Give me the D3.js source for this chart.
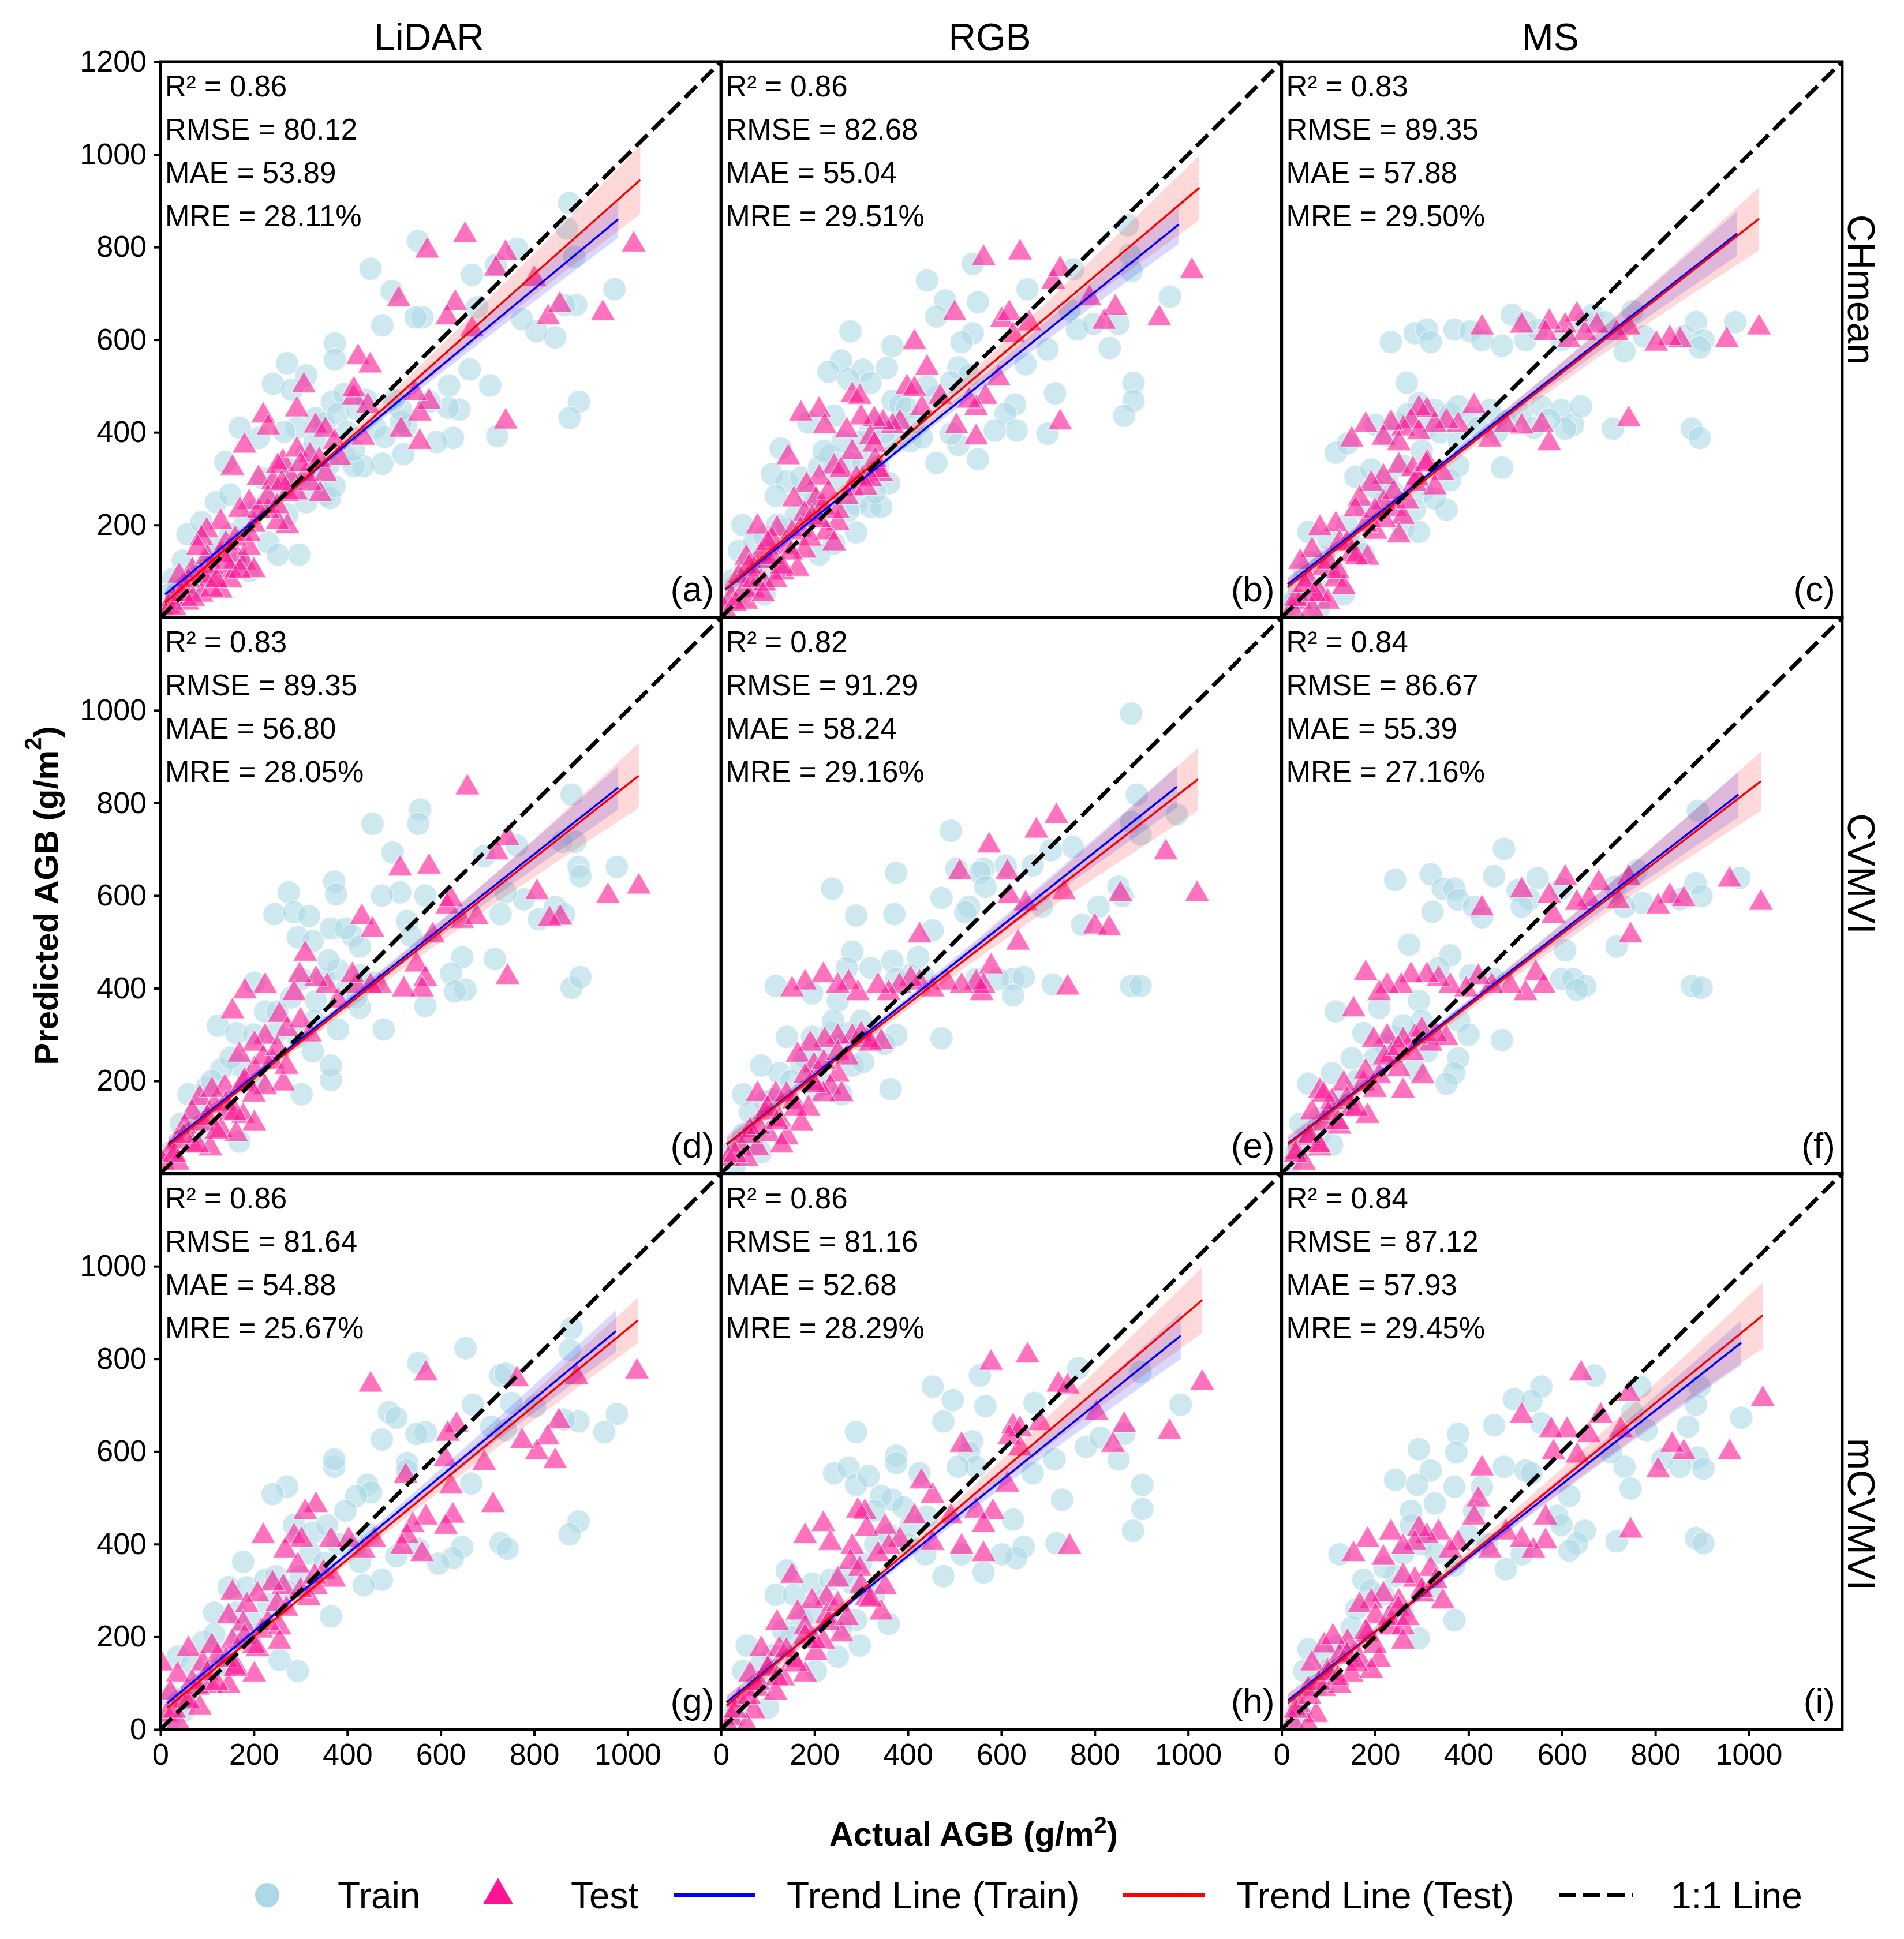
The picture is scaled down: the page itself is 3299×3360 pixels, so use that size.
<!DOCTYPE html>
<html>
<head>
<meta charset="utf-8">
<title>Predicted vs Actual AGB</title>
<script src="https://d3js.org/d3.v7.min.js"></script>
<style>
  body { margin: 0; background: #fff; }
  text { font-family: "Liberation Sans", Arial, sans-serif; fill: #000; }
</style>
</head>
<body>
<div id="chart"></div>
<script>
// ---- data ----
const columns = ["LiDAR", "RGB", "MS"];
const rowLabels = ["CHmean", "CVMVI", "mCVMVI"];
const panelTags = ["(a)", "(b)", "(c)", "(d)", "(e)", "(f)", "(g)", "(h)", "(i)"];
const r2   = [0.86, 0.86, 0.83, 0.83, 0.82, 0.84, 0.86, 0.86, 0.84];
const rmse = [80.12, 82.68, 89.35, 89.35, 91.29, 86.67, 81.64, 81.16, 87.12];
const mae  = [53.89, 55.04, 57.88, 56.80, 58.24, 55.39, 54.88, 52.68, 57.93];
const mre  = [28.11, 29.51, 29.50, 28.05, 29.16, 27.16, 25.67, 28.29, 29.45];

const xTicks = [0, 200, 400, 600, 800, 1000];
const yTicksByRow = [[200, 400, 600, 800, 1000, 1200], [200, 400, 600, 800, 1000], [0, 200, 400, 600, 800, 1000]];

// [actual, predicted]
const trainA = [[875,895],[870,840],[886,779],[972,709],[890,675],[865,675],[896,466],[876,431],[845,605],[805,618],[774,644],[764,796],[718,761],[667,740],[678,670],[551,813],[561,648],[546,648],[495,705],[450,753],[475,631],[373,592],[373,557],[271,549],[312,523],[241,505],[281,492],[662,536],[618,501],[640,449],[706,501],[616,453],[626,388],[721,392],[591,379],[520,353],[526,414],[475,332],[434,327],[393,349],[367,466],[393,483],[332,431],[292,410],[265,401],[210,388],[170,410],[139,336],[119,249],[149,266],[58,180],[48,123],[88,206],[231,162],[297,136],[251,136],[272,223],[312,249],[353,266],[363,258],[414,327],[414,362],[332,293],[373,284],[312,353],[515,423],[515,449],[576,466],[27,84],[17,49],[38,66],[78,101],[108,136],[190,101],[170,119],[15,15],[330,380],[350,420],[380,440],[400,400],[420,450],[440,470],[360,330],[300,300],[280,320],[260,280],[230,250],[200,230],[180,200],[150,180],[120,150],[100,120],[80,80],[60,60],[220,300],[460,410],[480,390],[500,470]];
const testA = [[1013,805],[652,826],[571,792],[739,787],[718,753],[800,731],[510,687],[947,657],[830,648],[855,675],[631,679],[614,648],[667,622],[739,423],[555,379],[515,405],[555,440],[575,466],[545,484],[423,562],[449,544],[414,475],[414,492],[307,501],[292,449],[220,436],[231,410],[180,371],[154,323],[210,301],[241,293],[262,336],[292,362],[312,310],[332,414],[353,405],[373,379],[383,345],[353,310],[342,266],[272,266],[251,327],[434,388],[444,457],[272,197],[251,206],[190,249],[170,232],[129,206],[99,188],[88,171],[129,136],[160,136],[180,119],[200,102],[149,102],[109,84],[68,102],[48,67],[27,41],[17,23],[88,49],[129,58],[58,32],[12,6],[60,80],[100,130],[140,160],[200,200],[230,230],[280,300],[320,350],[110,60],[150,80],[190,150],[30,20],[45,50],[70,40],[90,90],[110,110],[120,80],[140,120],[160,170],[170,100],[190,180],[210,230],[230,260],[250,240],[260,290],[290,270],[300,330],[320,290],[340,340],[40,90],[80,150]];

const trainB = [[871,847],[875,784],[879,748],[961,693],[851,634],[832,582],[883,507],[883,468],[863,436],[762,622],[797,634],[746,665],[754,752],[656,709],[699,579],[652,547],[715,484],[699,397],[629,460],[609,440],[633,404],[586,404],[539,764],[550,681],[539,614],[480,685],[461,650],[441,728],[515,595],[508,540],[531,524],[492,508],[461,476],[441,500],[367,586],[355,539],[304,535],[277,618],[257,555],[230,531],[273,515],[320,507],[367,468],[383,460],[398,452],[187,421],[242,436],[320,404],[367,381],[406,381],[430,389],[414,421],[461,334],[550,342],[508,373],[492,397],[128,365],[109,310],[140,294],[171,302],[210,326],[234,350],[273,334],[304,334],[336,326],[289,247],[320,239],[343,239],[273,231],[242,160],[289,184],[187,263],[117,263],[46,200],[38,144],[70,160],[93,176],[140,192],[195,215],[210,136],[93,50],[62,73],[23,81],[330,420],[350,400],[380,420],[300,380],[260,380],[220,360],[250,300],[200,250],[160,220],[120,200],[80,120],[50,100],[30,40],[100,100],[360,290],[330,270]];
const testB = [[1008,748],[938,646],[844,669],[820,638],[789,689],[711,725],[726,752],[640,788],[562,776],[500,657],[601,642],[617,657],[625,610],[660,635],[594,516],[566,476],[546,452],[531,468],[504,413],[546,389],[726,421],[414,594],[441,539],[398,497],[414,493],[469,476],[430,452],[383,421],[367,413],[347,421],[328,428],[281,480],[297,476],[210,448],[171,440],[222,413],[300,432],[269,404],[320,389],[328,373],[281,357],[144,346],[242,326],[257,318],[343,310],[336,318],[304,302],[320,298],[281,278],[210,302],[183,286],[156,255],[203,255],[218,239],[179,224],[195,216],[250,204],[226,184],[242,160],[78,196],[120,192],[109,168],[152,184],[140,152],[179,144],[85,137],[54,129],[70,105],[101,121],[132,97],[164,105],[38,89],[70,58],[23,42],[54,34],[7,18],[93,73],[117,81],[30,30],[50,60],[70,80],[90,50],[110,130],[130,110],[150,140],[170,190],[190,170],[210,210],[230,270],[250,230],[270,260],[290,300],[310,280],[330,340],[60,110],[100,160]];

const trainC = [[234,595],[285,614],[311,622],[319,595],[370,622],[404,618],[429,599],[472,587],[493,654],[522,638],[522,599],[548,622],[599,599],[649,638],[666,654],[692,638],[734,575],[751,662],[776,607],[861,607],[887,638],[903,599],[971,638],[895,583],[268,507],[201,416],[226,392],[294,463],[328,448],[361,440],[378,456],[404,432],[446,448],[480,424],[514,440],[556,456],[599,448],[624,416],[641,456],[607,408],[709,408],[878,408],[895,388],[573,428],[116,356],[141,376],[472,324],[158,304],[192,320],[226,297],[260,328],[302,273],[353,233],[378,328],[361,297],[328,257],[285,233],[218,249],[260,193],[294,185],[57,185],[91,130],[48,98],[74,66],[31,42],[116,98],[158,153],[175,137],[133,50],[250,420],[270,440],[310,410],[340,400],[420,410],[460,400],[540,410],[380,380],[300,360],[200,280],[240,270],[180,230],[140,200],[100,170],[60,120],[20,30],[80,20]];
const testC = [[1022,626],[953,599],[853,599],[831,603],[802,591],[743,626],[717,614],[675,630],[649,614],[632,654],[607,630],[615,599],[573,638],[565,614],[514,630],[429,626],[743,428],[557,416],[573,376],[514,412],[480,416],[446,384],[412,456],[378,416],[353,424],[328,416],[311,448],[294,452],[277,424],[260,408],[234,420],[218,388],[180,416],[150,384],[251,376],[294,400],[251,328],[281,320],[311,336],[344,312],[328,281],[285,289],[218,304],[192,289],[167,257],[218,249],[243,233],[260,217],[251,177],[201,185],[158,233],[116,201],[82,193],[124,161],[150,137],[184,129],[65,145],[91,106],[57,82],[116,82],[82,50],[40,34],[23,18],[133,66],[99,34],[65,18],[30,40],[50,70],[70,50],[100,120],[120,100],[140,160],[160,130],[180,200],[200,230],[220,210],[240,270],[270,250],[290,300],[310,330],[40,120]];

const trainD = [[880,818],[888,716],[860,716],[895,662],[899,642],[977,662],[845,576],[864,560],[810,549],[778,592],[763,708],[693,685],[739,607],[728,560],[716,463],[646,467],[622,432],[653,397],[630,393],[880,401],[899,424],[556,786],[552,755],[454,755],[497,693],[513,607],[474,600],[567,600],[372,630],[376,603],[275,607],[244,560],[286,564],[318,556],[294,510],[326,502],[365,529],[411,513],[427,490],[396,529],[528,545],[536,513],[567,362],[478,311],[427,358],[380,311],[333,373],[302,420],[427,428],[458,412],[123,319],[201,412],[162,303],[224,350],[247,303],[294,295],[326,264],[365,202],[365,233],[302,171],[208,194],[169,233],[130,225],[60,171],[99,186],[44,108],[84,85],[21,46],[169,69],[350,420],[380,440],[400,400],[330,330],[280,380],[250,350],[200,300],[150,250],[110,200],[80,140],[420,380],[360,460]];
const testD = [[657,833],[743,724],[720,693],[575,662],[513,658],[1024,619],[958,599],[806,607],[856,552],[833,549],[614,576],[622,592],[646,545],[677,553],[583,514],[743,424],[548,451],[567,420],[560,397],[521,397],[470,405],[450,405],[431,553],[454,526],[419,405],[411,428],[380,373],[357,405],[333,420],[310,474],[298,428],[286,389],[224,405],[181,393],[154,350],[255,342],[271,311],[224,295],[201,280],[169,256],[201,225],[240,241],[263,194],[224,186],[138,186],[177,194],[84,163],[115,147],[146,132],[177,124],[201,108],[68,132],[52,101],[91,108],[130,93],[162,85],[37,69],[68,62],[21,46],[107,54],[5,23],[37,23],[30,40],[50,80],[80,60],[100,120],[120,90],[140,150],[160,130],[180,200],[200,170],[220,250],[250,270],[270,230],[300,330],[320,300],[110,180]];

const trainE = [[878,993],[890,818],[878,759],[898,732],[976,775],[851,619],[859,599],[808,576],[773,537],[878,405],[898,405],[710,408],[753,705],[706,698],[687,576],[667,665],[609,665],[562,658],[554,650],[566,619],[531,576],[523,564],[492,740],[504,658],[472,595],[453,525],[375,649],[371,560],[289,557],[238,615],[281,479],[269,444],[320,444],[367,459],[422,467],[406,428],[437,420],[625,420],[648,424],[593,420],[546,420],[625,385],[117,405],[195,389],[250,373],[375,420],[472,292],[363,182],[141,295],[195,295],[234,303],[273,303],[328,295],[375,299],[281,233],[304,241],[86,233],[125,217],[172,233],[211,202],[258,171],[47,171],[62,132],[94,155],[47,85],[86,46],[23,46],[300,290],[260,280],[220,260],[180,250],[150,200],[110,160],[200,180],[300,330],[350,280],[240,330],[70,60],[30,20]];
const testE = [[1019,603],[952,693],[855,603],[800,533],[831,529],[718,771],[675,740],[574,708],[511,650],[613,650],[617,599],[636,498],[734,607],[652,583],[578,447],[425,514],[742,401],[558,389],[562,405],[546,412],[515,405],[484,412],[453,397],[425,412],[406,420],[382,405],[359,389],[336,405],[293,389],[273,412],[250,405],[219,428],[180,412],[152,397],[343,284],[312,288],[281,295],[250,295],[222,288],[191,280],[164,256],[199,233],[250,213],[234,186],[258,171],[219,171],[195,196],[78,171],[117,171],[156,155],[187,140],[94,132],[125,116],[172,108],[62,93],[101,85],[141,78],[39,62],[78,54],[16,31],[55,31],[30,40],[60,80],[80,100],[100,140],[120,110],[140,170],[160,140],[180,210],[200,190],[220,240],[250,260],[270,250],[300,300],[320,280],[130,60]];

const trainF = [[891,783],[980,638],[886,627],[899,599],[853,592],[772,584],[734,576],[717,490],[760,654],[713,619],[476,701],[455,642],[548,638],[599,615],[505,611],[531,592],[514,576],[319,646],[243,634],[345,615],[370,615],[378,591],[412,576],[429,553],[323,565],[273,494],[361,471],[455,420],[404,428],[336,444],[607,482],[599,420],[624,420],[650,405],[632,397],[878,405],[899,401],[472,288],[116,350],[209,358],[294,373],[175,303],[243,295],[378,249],[370,217],[353,194],[150,249],[311,264],[285,225],[57,194],[108,217],[133,147],[40,108],[82,85],[108,62],[31,46],[300,330],[260,320],[220,280],[200,250],[330,300],[380,330],[400,300],[160,200],[120,160],[80,120],[60,70],[20,20]];
const testF = [[1026,584],[959,634],[831,599],[861,592],[806,576],[747,514],[743,638],[721,587],[679,627],[658,592],[632,584],[607,638],[573,599],[582,556],[514,611],[429,572],[544,432],[561,405],[522,389],[489,405],[450,405],[421,424],[395,397],[361,405],[336,420],[311,428],[277,428],[256,405],[226,405],[209,389],[180,432],[154,354],[353,292],[319,280],[285,295],[260,288],[226,295],[197,288],[235,256],[251,225],[302,210],[260,178],[209,210],[175,194],[133,194],[82,178],[108,155],[150,139],[184,124],[65,132],[91,108],[124,101],[57,77],[82,54],[31,46],[48,23],[30,40],[60,80],[80,60],[100,130],[120,110],[140,160],[160,140],[180,220],[200,180],[220,250],[250,270],[280,260],[300,310],[330,300],[90,170]];

const trainG = [[653,823],[552,791],[727,764],[739,768],[880,866],[876,819],[895,665],[977,681],[950,642],[864,669],[802,697],[751,705],[739,646],[708,654],[669,701],[665,531],[895,449],[876,421],[728,402],[743,390],[646,394],[626,370],[595,358],[552,390],[568,642],[548,638],[474,626],[489,685],[505,673],[528,575],[528,559],[443,528],[451,512],[372,567],[372,583],[271,524],[240,508],[419,504],[396,472],[286,441],[326,425],[357,441],[474,323],[435,311],[427,362],[505,374],[177,362],[146,307],[185,307],[224,323],[115,252],[162,252],[247,331],[365,244],[294,126],[255,150],[91,189],[115,205],[37,157],[68,142],[146,134],[21,71],[52,63],[320,380],[350,360],[380,400],[300,330],[270,300],[230,270],[200,230],[170,200],[420,400],[450,420],[130,140],[90,100],[50,40],[20,20]];
const testG = [[1020,772],[568,768],[450,744],[763,756],[891,760],[853,665],[829,630],[806,598],[845,579],[774,622],[693,575],[712,484],[634,657],[615,638],[610,583],[622,524],[626,461],[611,437],[568,457],[540,441],[528,417],[560,378],[517,394],[525,547],[435,386],[458,409],[403,409],[365,409],[333,484],[310,469],[286,417],[302,409],[267,386],[220,417],[294,354],[349,339],[372,323],[333,307],[318,283],[263,307],[240,315],[208,291],[154,295],[146,244],[185,268],[177,228],[216,213],[208,173],[255,220],[255,189],[154,189],[60,173],[122,157],[91,142],[162,134],[201,118],[37,118],[68,102],[107,94],[146,94],[21,79],[52,63],[84,47],[13,31],[37,16],[2,142],[30,40],[60,60],[80,90],[100,120],[120,100],[140,150],[160,130],[180,200],[200,180],[230,230],[250,270],[270,260],[300,300],[330,330],[110,180]];

const trainH = [[765,780],[554,764],[453,740],[496,711],[476,665],[566,698],[671,705],[984,701],[898,772],[781,610],[812,630],[851,583],[863,638],[902,528],[902,476],[882,429],[730,496],[714,583],[667,553],[718,402],[648,394],[625,453],[632,370],[562,339],[601,378],[515,378],[538,622],[531,598],[546,567],[507,567],[425,553],[289,642],[242,553],[273,565],[289,528],[316,547],[375,591],[375,575],[367,496],[343,504],[390,480],[328,472],[406,441],[437,378],[476,331],[141,343],[117,291],[156,291],[195,315],[234,323],[281,315],[328,291],[359,228],[289,236],[258,220],[297,181],[250,157],[172,236],[133,213],[55,181],[47,126],[86,142],[203,126],[101,47],[31,39],[330,400],[360,420],[400,400],[300,360],[260,330],[220,280],[190,250],[150,200],[110,160],[80,100],[30,20],[440,460]];
const testH = [[656,807],[578,791],[1030,748],[960,642],[863,657],[839,614],[804,683],[722,744],[742,740],[683,661],[625,654],[640,648],[617,630],[515,614],[640,606],[613,528],[582,469],[546,472],[562,441],[562,378],[515,394],[746,394],[492,459],[453,402],[453,504],[429,535],[414,459],[383,409],[359,394],[336,378],[308,469],[293,472],[312,433],[351,437],[281,394],[277,362],[219,443],[180,417],[234,402],[152,331],[250,323],[297,346],[351,307],[312,283],[343,252],[226,283],[195,276],[164,252],[180,220],[226,244],[258,205],[219,189],[203,165],[86,173],[125,173],[156,150],[101,134],[62,118],[133,110],[180,118],[78,87],[117,79],[39,63],[70,39],[23,24],[55,8],[16,5],[30,40],[60,70],[80,100],[100,130],[120,110],[140,170],[160,140],[180,200],[200,190],[230,230],[250,270],[270,240],[300,310],[320,280],[120,230]];

const trainI = [[670,764],[556,740],[497,713],[535,709],[455,657],[378,638],[294,605],[374,598],[319,559],[243,539],[290,528],[370,524],[429,524],[476,567],[522,559],[535,553],[556,661],[616,504],[590,461],[768,740],[751,685],[781,646],[734,567],[747,520],[895,740],[887,701],[870,654],[984,673],[891,587],[903,563],[853,567],[815,583],[705,598],[887,413],[903,402],[717,406],[649,429],[633,402],[616,386],[599,441],[514,378],[480,346],[412,472],[328,488],[277,472],[277,441],[370,354],[124,378],[175,323],[243,331],[218,291],[370,236],[294,197],[57,173],[91,157],[150,220],[48,126],[82,94],[40,39],[300,400],[330,380],[260,380],[220,350],[190,300],[160,260],[260,250],[320,300],[400,420],[440,400],[120,180],[100,130],[30,30]];
const testI = [[1030,713],[959,598],[861,598],[836,614],[806,559],[747,429],[641,768],[743,724],[683,677],[726,646],[658,635],[633,591],[611,646],[577,646],[582,598],[514,677],[429,563],[565,457],[565,406],[539,386],[514,409],[480,425],[446,386],[421,496],[412,457],[378,402],[361,386],[336,425],[311,417],[294,433],[285,402],[260,394],[234,425],[218,370],[184,409],[154,378],[319,346],[285,323],[260,331],[345,276],[302,291],[251,276],[218,291],[192,276],[167,268],[201,244],[234,220],[260,220],[184,205],[260,189],[141,189],[91,181],[124,157],[167,150],[209,150],[65,142],[99,126],[150,118],[192,126],[57,87],[91,87],[124,94],[40,47],[74,31],[23,16],[57,8],[30,40],[60,70],[80,100],[100,120],[120,110],[140,160],[160,140],[180,210],[200,180],[230,240],[250,260],[270,240],[300,300],[330,320],[110,200]];

const trainSets = [trainA, trainB, trainC, trainD, trainE, trainF, trainG, trainH, trainI];
const testSets = [testA, testB, testC, testD, testE, testF, testG, testH, testI];

// fitted trend lines, [start, end] in data units
const trendTrain = [[[10,50],[980,860]], [[9,60],[980,849]], [[13,72],[975,829]], [[17,64],[980,833]], [[12,63],[976,835]], [[14,65],[978,818]], [[15,57],[975,860]], [[12,59],[984,850]], [[14,63],[984,835]]];
const trendTest = [[[10,32],[1027,945]], [[9,62],[1024,928]], [[13,66],[1022,861]], [[17,60],[1024,859]], [[12,63],[1021,851]], [[14,63],[1026,847]], [[15,47],[1022,883]], [[12,52],[1030,927]], [[14,57],[1030,894]]];
// confidence band half widths at x = start, 300, 650, end
const bandKnotX = [300, 650];
const bandTrain = [[12,6,18,40], [12,6,18,42], [14,7,20,48], [14,7,20,47], [14,7,19,45], [14,7,20,49], [13,6,19,45], [14,7,20,50], [14,7,20,48]];
const bandTest = [[22,10,30,74], [20,10,28,70], [20,10,26,68], [20,10,26,70], [20,10,26,68], [20,10,25,64], [16,8,20,49], [20,10,28,71], [20,10,28,71]];

// ---- layout ----
const W = 3299, H = 3360;
const gridLeft = 278, gridTop = 107, panelW = 971.3, panelH = 963.3;
const rowLabelY = [502, 1514, 2624];
const font = "'Liberation Sans', Arial, sans-serif";

const svg = d3.select("#chart").append("svg")
    .attr("width", W)
    .attr("height", H);
svg.append("rect").attr("width", W).attr("height", H).attr("fill", "#fff");

const x = d3.scaleLinear().domain([0, 1200]).range([0, panelW]);
const y = d3.scaleLinear().domain([0, 1200]).range([panelH, 0]);
const tri = d3.symbol().type(d3.symbolTriangle).size(800);

function bandPath(line, hw) {
    const [[x0, y0], [x1, y1]] = line;
    const onLine = xv => y0 + (y1 - y0) * (xv - x0) / (x1 - x0);
    const knots = [x0, ...bandKnotX, x1].map((xv, k) => ({x: xv, lo: onLine(xv) - hw[k], hi: onLine(xv) + hw[k]}));
    return d3.area()
        .x(d => x(d.x))
        .y0(d => y(d.lo))
        .y1(d => y(d.hi))
        .curve(d3.curveMonotoneX)(knots);
}

for (let i = 0; i < 9; i++) {
    const r = Math.floor(i / 3), c = i % 3;
    const g = svg.append("g")
        .attr("transform", `translate(${gridLeft + c * panelW},${gridTop + r * panelH})`);

    g.append("clipPath").attr("id", "clip" + i)
        .append("rect").attr("width", panelW).attr("height", panelH);
    const plot = g.append("g").attr("clip-path", `url(#clip${i})`);

    // scatter
    plot.selectAll("circle.train")
        .data(trainSets[i])
        .join("circle")
        .attr("class", "train")
        .attr("cx", d => x(d[0]))
        .attr("cy", d => y(d[1]))
        .attr("r", 20)
        .attr("fill", "lightblue")
        .attr("fill-opacity", 0.6)
        .attr("stroke", "#fff")
        .attr("stroke-opacity", 0.6)
        .attr("stroke-width", 1.5);

    plot.selectAll("path.test")
        .data(testSets[i])
        .join("path")
        .attr("class", "test")
        .attr("d", tri)
        .attr("transform", d => `translate(${x(d[0])},${y(d[1])})`)
        .attr("fill", "deeppink")
        .attr("fill-opacity", 0.6)
        .attr("stroke", "#fff")
        .attr("stroke-opacity", 0.6)
        .attr("stroke-width", 1.5);

    // confidence bands + trend lines
    plot.append("path").attr("d", bandPath(trendTrain[i], bandTrain[i]))
        .attr("fill", "blue").attr("fill-opacity", 0.15);
    plot.append("path").attr("d", bandPath(trendTest[i], bandTest[i]))
        .attr("fill", "red").attr("fill-opacity", 0.15);

    const line = d3.line().x(d => x(d[0])).y(d => y(d[1]));
    plot.append("path").attr("d", line(trendTrain[i]))
        .attr("stroke", "blue").attr("stroke-width", 3.5).attr("fill", "none");
    plot.append("path").attr("d", line(trendTest[i]))
        .attr("stroke", "red").attr("stroke-width", 3.5).attr("fill", "none");

    // 1:1 line
    plot.append("path").attr("d", line([[0, 0], [1200, 1200]]))
        .attr("stroke", "#000").attr("stroke-width", 7)
        .attr("stroke-dasharray", "28,12").attr("fill", "none");

    // frame
    g.append("rect").attr("width", panelW).attr("height", panelH)
        .attr("fill", "none").attr("stroke", "#000").attr("stroke-width", 5);

    // stats
    const lines = [
        `R² = ${r2[i].toFixed(2)}`,
        `RMSE = ${rmse[i].toFixed(2)}`,
        `MAE = ${mae[i].toFixed(2)}`,
        `MRE = ${mre[i].toFixed(2)}%`
    ];
    g.selectAll("text.stat")
        .data(lines)
        .join("text")
        .attr("class", "stat")
        .attr("x", 8)
        .attr("y", (d, k) => 60 + k * 75)
        .attr("font-size", 51)
        .text(d => d);

    g.append("text")
        .attr("x", panelW - 12)
        .attr("y", panelH - 28)
        .attr("text-anchor", "end")
        .attr("font-size", 62)
        .text(panelTags[i]);

    // axes
    if (c === 0) {
        const ay = g.append("g")
            .call(d3.axisLeft(y).tickValues(yTicksByRow[r]).tickSize(12).tickPadding(12).tickFormat(d3.format("d")))
            .attr("font-size", 52).attr("font-family", font);
        ay.select(".domain").remove();
        ay.selectAll("line").attr("stroke-width", 4);
    }
    if (r === 2) {
        const ax = g.append("g")
            .attr("transform", `translate(0,${panelH})`)
            .call(d3.axisBottom(x).tickValues(xTicks).tickSize(12).tickPadding(12).tickFormat(d3.format("d")))
            .attr("font-size", 52).attr("font-family", font);
        ax.select(".domain").remove();
        ax.selectAll("line").attr("stroke-width", 4);
    }
}

// column titles
svg.selectAll("text.col")
    .data(columns)
    .join("text")
    .attr("class", "col")
    .attr("x", (d, c) => gridLeft + c * panelW + panelW / 2 - 20)
    .attr("y", 87)
    .attr("text-anchor", "middle")
    .attr("font-size", 66)
    .text(d => d);

// row labels on the right
svg.selectAll("text.rowlab")
    .data(rowLabels)
    .join("text")
    .attr("class", "rowlab")
    .attr("transform", (d, r) => `translate(3225,${rowLabelY[r]}) rotate(90)`)
    .attr("text-anchor", "middle")
    .attr("dominant-baseline", "central")
    .attr("font-size", 66)
    .text(d => d);

// axis titles
const yTitle = svg.append("text")
    .attr("transform", `translate(79,${gridTop + 1.5 * panelH}) rotate(-90)`)
    .attr("text-anchor", "middle")
    .attr("dominant-baseline", "central")
    .attr("font-size", 58)
    .attr("font-weight", "bold");
yTitle.append("tspan").text("Predicted AGB (g/m");
yTitle.append("tspan").attr("dy", -22).attr("font-size", 40).text("2");
yTitle.append("tspan").attr("dy", 22).text(")");

const xTitle = svg.append("text")
    .attr("x", 1687)
    .attr("y", 3198)
    .attr("text-anchor", "middle")
    .attr("font-size", 58)
    .attr("font-weight", "bold");
xTitle.append("tspan").text("Actual AGB (g/m");
xTitle.append("tspan").attr("dy", -22).attr("font-size", 40).text("2");
xTitle.append("tspan").attr("dy", 22).text(")");

// legend
const ly = 3284;
const legend = svg.append("g");
legend.append("circle").attr("cx", 463).attr("cy", ly).attr("r", 21).attr("fill", "lightblue");
legend.append("path").attr("d", d3.symbol().type(d3.symbolTriangle).size(1150)())
    .attr("transform", `translate(863,${ly})`).attr("fill", "deeppink");
legend.append("line").attr("x1", 1168).attr("x2", 1309).attr("y1", ly).attr("y2", ly)
    .attr("stroke", "blue").attr("stroke-width", 7);
legend.append("line").attr("x1", 1946).attr("x2", 2087).attr("y1", ly).attr("y2", ly)
    .attr("stroke", "red").attr("stroke-width", 7);
legend.append("line").attr("x1", 2701).attr("x2", 2830).attr("y1", ly).attr("y2", ly)
    .attr("stroke", "#000").attr("stroke-width", 8).attr("stroke-dasharray", "30,12");

const legendText = [["Train", 585], ["Test", 989], ["Trend Line (Train)", 1363], ["Trend Line (Test)", 2142], ["1:1 Line", 2895]];
legend.selectAll("text")
    .data(legendText)
    .join("text")
    .attr("x", d => d[1])
    .attr("y", ly + 23)
    .attr("font-size", 64)
    .text(d => d[0]);
</script>
</body>
</html>
